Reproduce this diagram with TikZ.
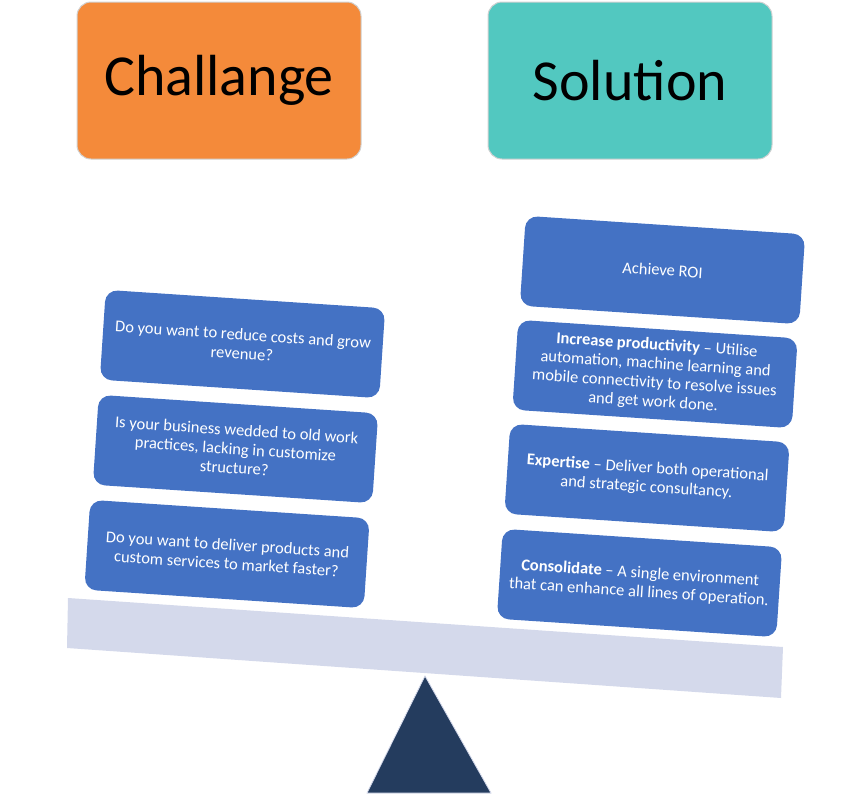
\documentclass[tikz,border=0pt]{standalone}
\usepackage{fontspec}
\setmainfont{Carlito}
\usetikzlibrary{positioning}

\definecolor{hdrorange}{HTML}{F48A3A}
\definecolor{hdrteal}{HTML}{52C8C0}
\definecolor{cardblue}{HTML}{4472C4}
\definecolor{beamgray}{HTML}{D4D9EB}
\definecolor{pivotnavy}{HTML}{243C5E}

\tikzset{
  header/.style={rounded corners=14pt, draw=black!18, line width=1pt,
    minimum width=284pt, minimum height=157pt, inner sep=0pt,
    font=\fontsize{58}{60}\selectfont},
  card/.style={fill=cardblue, rounded corners=12pt, rotate=-3.8,
    minimum width=280pt, minimum height=90pt, inner sep=0pt,
    text=white, align=center, font=\fontsize{16.5}{19}\selectfont},
}

\begin{document}
\begin{tikzpicture}[x=1pt, y=1pt, yscale=-1]
\useasboundingbox (0,0) rectangle (857,801);

% headings
\node[header, fill=hdrorange] (challange) at (219,80.5) {Challange};
\node[header, fill=hdrteal] (solution) at (630,80.5) {Solution};

% seesaw
\fill[beamgray] (68,598) -- (783,647) -- (781,698) -- (67,648) -- cycle;
\filldraw[fill=pivotnavy, draw=beamgray, line width=0.8pt] (425,676) -- (491,793) -- (367,793) -- cycle;

% left pile
\node[card] (costs) at (242.5,344) {Do you want to reduce costs and grow\\revenue?};
\node[card] (practices) at (235.5,449) {Is your business wedded to old work\\practices, lacking in customize\\structure?};
\node[card] (market) at (227,554) {Do you want to deliver products and\\custom services to market faster?};

% right pile
\node[card] (roi) at (662.5,270) {Achieve ROI};
\node[card] (productivity) at (655,374) {\textbf{Increase productivity} – Utilise\\automation, machine learning and\\mobile connectivity to resolve issues\\and get work done.};
\node[card] (expertise) at (647,478) {\textbf{Expertise} – Deliver both operational\\and strategic consultancy.};
\node[card] (consolidate) at (639.5,583) {\textbf{Consolidate} – A single environment\\that can enhance all lines of operation.};
\end{tikzpicture}
\end{document}
